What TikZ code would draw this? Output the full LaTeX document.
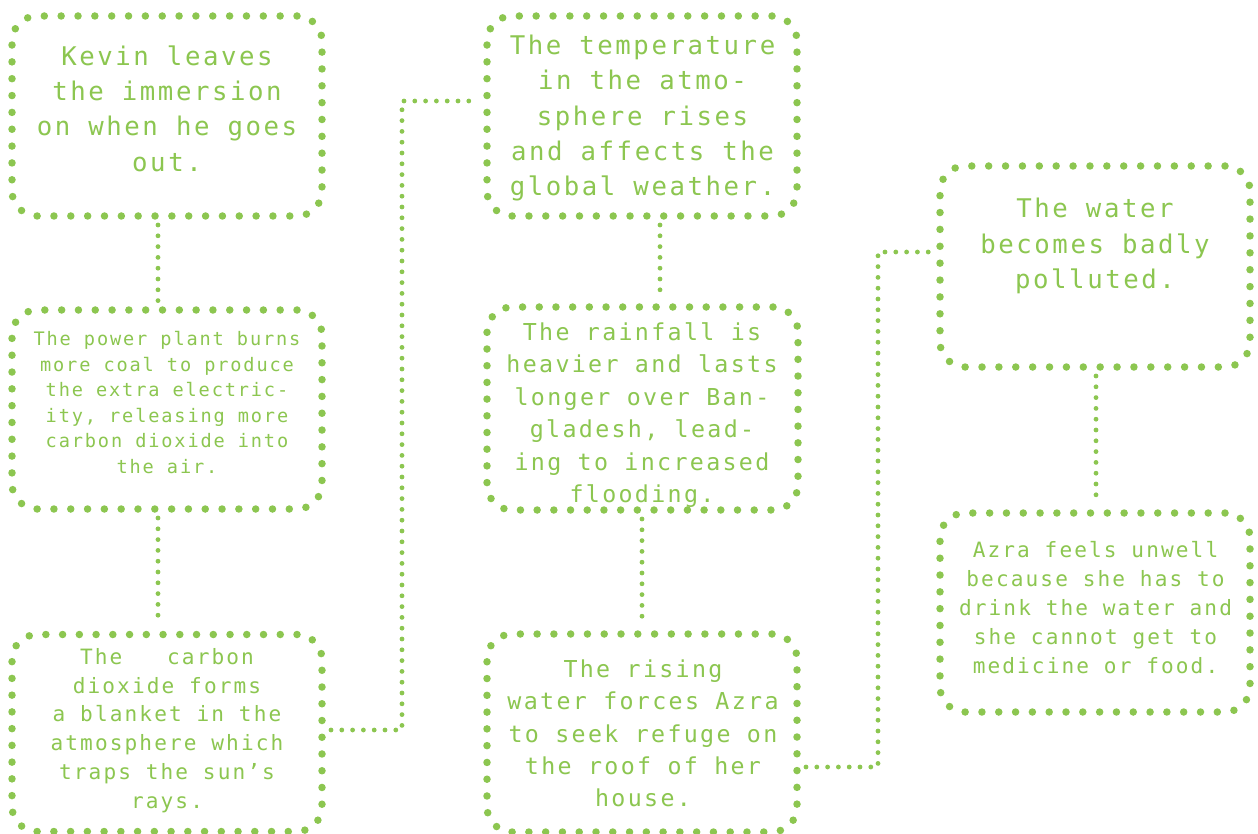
\documentclass[tikz,border=0pt]{standalone}
\usepackage{fontspec}
\newfontfamily\monofam[LetterSpace=10]{DejaVu Sans Mono}
\definecolor{grn}{RGB}{140,198,80}
\tikzset{
  box/.style={draw=grn, line width=7.5pt, dash pattern=on 0pt off #1, line cap=round,
    rounded corners=25pt, minimum width=310pt, minimum height=200pt, inner sep=0pt, outer sep=0pt},
  box/.default=16.846pt,
  conn/.style={draw=grn, line width=4.8pt, dash pattern=on 0pt off 10.8pt, line cap=round,
    shorten <=9pt, shorten >=9pt},
  txt/.style={text=grn, align=center, inner sep=0pt},
  big/.style={txt, font={\monofam\fontsize{25.7}{35.3}\selectfont}},
  med/.style={txt, font={\monofam\fontsize{23.3}{32.4}\selectfont}},
  sml/.style={txt, font={\monofam\fontsize{21.1}{28.8}\selectfont}},
  tiny/.style={txt, font={\monofam\fontsize{18.6}{25.5}\selectfont}},
}
\begin{document}
\begin{tikzpicture}[x=1pt,y=-1pt]
\useasboundingbox[fill=white] (0,0) rectangle (1258,834);

% boxes
\node[box] (A) at (167,116) {};
\node[box=16.812pt, minimum height=199pt] (B) at (167,409.5) {};
\node[box=16.743pt, minimum height=197pt] (C) at (167,733) {};
\node[box] (D) at (642,116) {};
\node[box=16.696pt, minimum width=311pt, minimum height=203pt] (E) at (642.5,408.5) {};
\node[box=16.777pt, minimum height=198pt] (F) at (642,733) {};
\node[box=16.881pt, minimum height=201pt] (G) at (1095,266.5) {};
\node[box=16.812pt, minimum height=199pt] (H) at (1095,612.5) {};

% texts
\node[big] (tA) at (167,108.5) {Kevin leaves\\the immersion\\on when he goes\\out.};
\node[tiny] (tB) at (167,402.5) {The power plant burns\\more coal to produce\\the extra electric-\\ity, releasing more\\carbon dioxide into\\the air.};
\node[sml] (tC) at (167,730.5) {The\hspace*{30pt} carbon\\dioxide forms\\a blanket in the\\atmosphere which\\traps the sun’s\\rays.};
\node[big] (tD) at (642.5,118) {The temperature\\in the atmo-\\sphere rises\\and affects the\\global weather.};
\node[med] (tE) at (642,415) {The rainfall is\\heavier and lasts\\longer over Ban-\\gladesh, lead-\\ing to increased\\flooding.};
\node[med] (tF) at (643,733.5) {The rising\\water forces Azra\\to seek refuge on\\the roof of her\\house.};
\node[big] (tG) at (1095,246) {The water\\becomes badly\\polluted.};
\node[sml] (tH) at (1095.5,607.5) {Azra feels unwell\\because she has to\\drink the water and\\she cannot get to\\medicine or food.};

% connectors
\coordinate (cd) at (402,101);
\coordinate (fg) at (878,252);
\draw[conn] ([xshift=-9pt]A.south) -- ([xshift=-9pt]B.north);
\draw[conn] ([xshift=-9pt]B.south) -- ([xshift=-9pt]C.north);
\draw[conn] ([yshift=3pt]C.east) -| (cd) -- ([yshift=15pt]D.west);
\draw[conn] ([xshift=18pt]D.south) -- ([xshift=17.5pt]E.north);
\draw[conn] ([xshift=-0.5pt]E.south) -- (F.north);
\draw[conn] ([yshift=-34pt]F.east) -| (fg) -- ([yshift=14.5pt]G.west);
\draw[conn] ([xshift=1pt]G.south) -- ([xshift=1pt]H.north);
\end{tikzpicture}
\end{document}
